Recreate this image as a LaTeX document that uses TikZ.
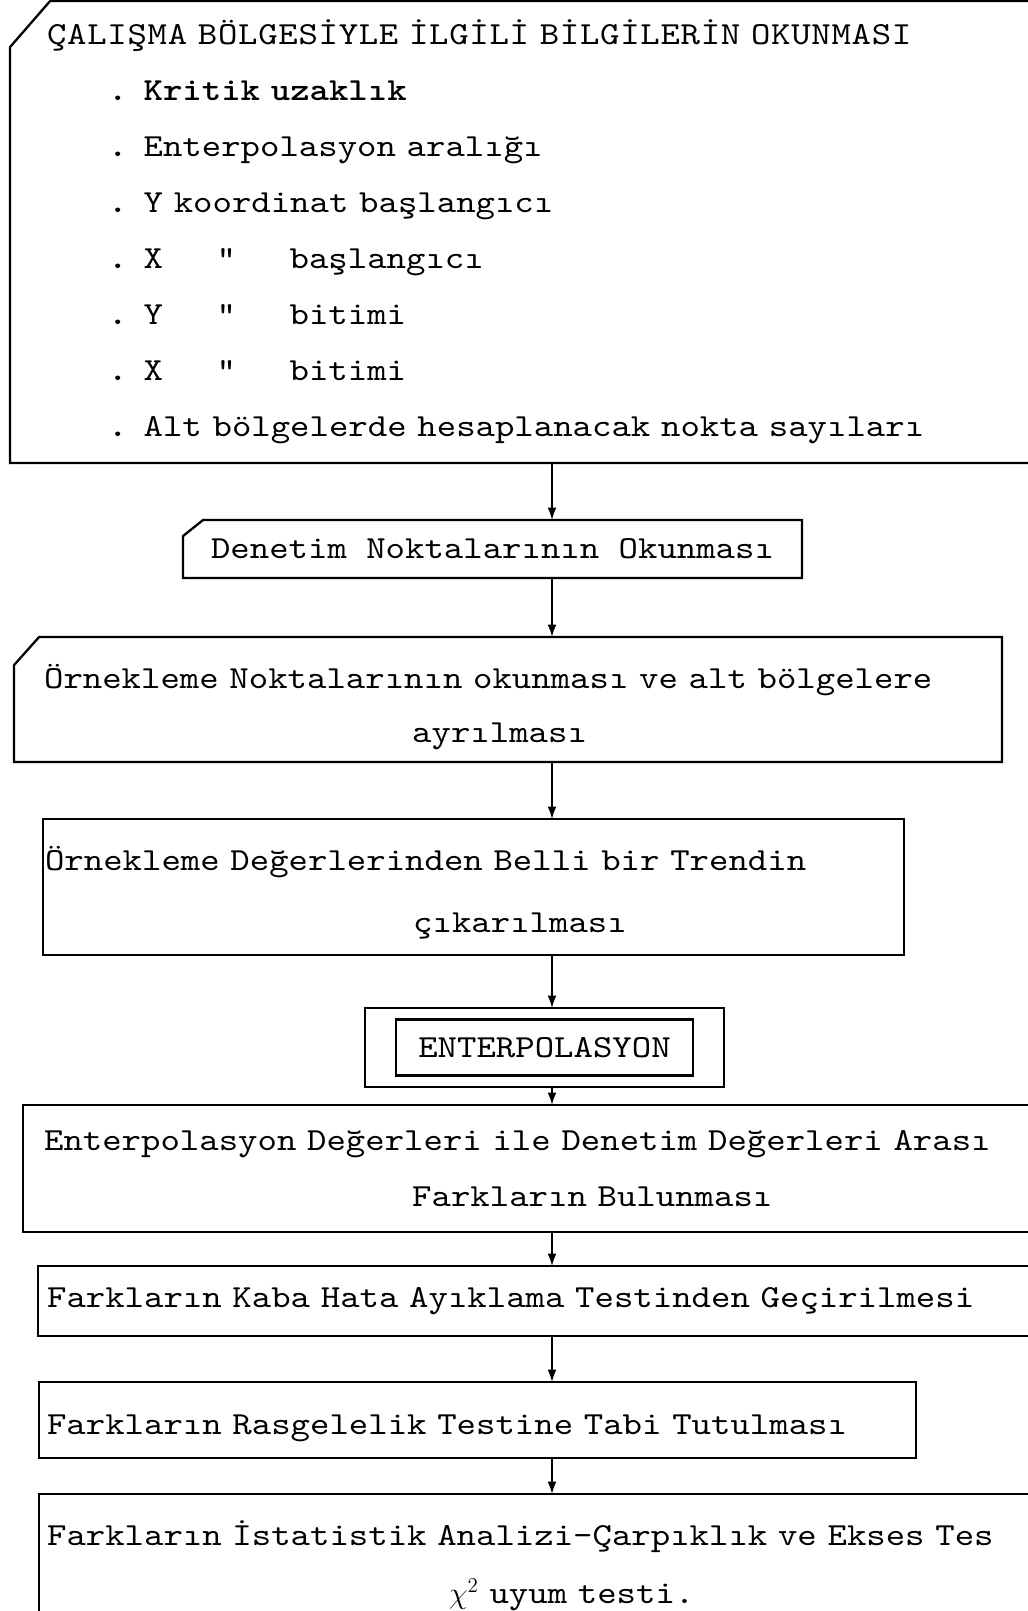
\documentclass[tikz,border=0pt]{standalone}
\usepackage{fontspec}
\usetikzlibrary{arrows.meta}
\newfontfamily\daktilo{lmmono10-regular}[Extension=.otf, FakeStretch=1.15, BoldFont=lmmonolt10-bold]
\setlength\parindent{0pt}
\begin{document}
\begin{tikzpicture}[-{Latex[length=7pt, width=5pt]}, line width=1pt, x=0.02cm, y=-0.02cm,
        font=\daktilo\fontsize{18.3}{31.9}\selectfont,
        kutu/.style = {draw, line width=1.3pt, inner ysep=0pt, outer sep=0pt},
        sol/.style = {align=left},
        kose/.style = {-, line width=1.3pt}]
    \useasboundingbox (0,0) rectangle (1027,1611);
    \coordinate (eksen) at (552,0);

    \node[kutu, draw=none, sol, inner xsep=0.74cm, text width=19.52cm, minimum height=9.24cm] (bilgi) at (535,232)
        {{\addfontfeature{LetterSpace=2.2}ÇALIŞMA BÖLGESİYLE İLGİLİ BİLGİLERİN OKUNMASI}\\
        \hspace*{1.9em}{\bfseries. Kritik uzaklık}\\
        \hspace*{1.9em}{\bfseries.} Enterpolasyon aralığı\\
        \hspace*{1.9em}{\bfseries.} Y koordinat başlangıcı\\
        \hspace*{1.9em}{\bfseries.} X~~~~~"~~~~~başlangıcı\\
        \hspace*{1.9em}{\bfseries.} Y~~~~~"~~~~~bitimi\\
        \hspace*{1.9em}{\bfseries.} X~~~~~"~~~~~bitimi\\
        \hspace*{1.9em}{\bfseries.} Alt bölgelerde hesaplanacak nokta sayıları};
    \node[kutu, draw=none, minimum width=12.38cm, minimum height=1.16cm] (denetim) at (492.5,549) {Denetim Noktalarının Okunması};
    \node[kutu, draw=none, sol, inner xsep=0.6cm, text width=18.56cm, minimum height=2.5cm] (ornek) at (508,699.5)
        {\rule{0pt}{22.5pt}\mbox{Örnekleme Noktalarının okunması ve alt bölgelere}\\[-1.1pt]
        \hspace*{11.45em}ayrılması};
    \node[kutu, sol, inner xsep=0.04cm, text width=17.14cm, minimum height=2.72cm] (trend) at (473.5,887)
        {\rule{0pt}{20pt}Örnekleme Değerlerinden Belli bir Trendin\\[3.4pt]
        \hspace*{11.45em}çıkarılması};
    \node[kutu, minimum width=7.18cm, minimum height=1.58cm] (enterpk) at (544.5,1047.5) {};
    \node[kutu, inner xsep=0pt, minimum width=5.94cm, minimum height=1.12cm] (enterp) at (enterpk) {ENTERPOLASYON};
    \node[kutu, sol, inner xsep=0.42cm, text width=19.9cm, minimum height=2.54cm] (fark) at (541.5,1168.5)
        {\mbox{Enterpolasyon Değerleri ile Denetim Değerleri Arası}\\
        \hspace*{11.45em}Farkların Bulunması};
    \node[kutu, sol, inner xsep=0.18cm, text width=20.08cm, minimum height=1.4cm] (kaba) at (549,1301)
        {Farkların Kaba Hata Ayıklama Testinden Geçirilmesi};
    \node[kutu, sol, inner xsep=0.16cm, text width=17.22cm, minimum height=1.52cm] (rasgele) at (477.5,1420)
        {\rule{0pt}{21pt}Farkların Rasgelelik Testine Tabi Tutulması};
    \node[kutu, sol, inner xsep=0.16cm, text width=20.1cm, minimum height=2.88cm] (analiz) at (549.5,1566)
        {\mbox{Farkların İstatistik Analizi-Çarpıklık ve Ekses Tes}\\[1.1pt]
        \hspace*{12.5em}$\chi^2$ uyum testi.};

    \draw[kose] ([yshift=-0.92cm]bilgi.north west) -- ([xshift=0.8cm]bilgi.north west) -- (bilgi.north east) -- (bilgi.south east) -- (bilgi.south west) -- cycle;
    \draw[kose] ([yshift=-0.32cm]denetim.north west) -- ([xshift=0.4cm]denetim.north west) -- (denetim.north east) -- (denetim.south east) -- (denetim.south west) -- cycle;
    \draw[kose] ([yshift=-0.56cm]ornek.north west) -- ([xshift=0.5cm]ornek.north west) -- (ornek.north east) -- (ornek.south east) -- (ornek.south west) -- cycle;

    \draw (bilgi.south -| eksen) -- (denetim.north -| eksen);
    \draw (denetim.south -| eksen) -- (ornek.north -| eksen);
    \draw (ornek.south -| eksen) -- (trend.north -| eksen);
    \draw (trend.south -| eksen) -- (enterpk.north -| eksen);
    \draw (enterpk.south -| eksen) -- (fark.north -| eksen);
    \draw (fark.south -| eksen) -- (kaba.north -| eksen);
    \draw (kaba.south -| eksen) -- (rasgele.north -| eksen);
    \draw (rasgele.south -| eksen) -- (analiz.north -| eksen);
\end{tikzpicture}
\end{document}
